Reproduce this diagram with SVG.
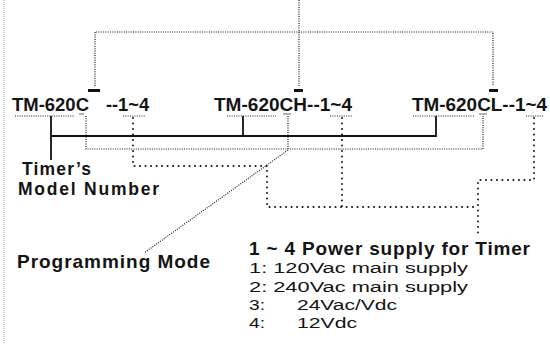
<svg xmlns="http://www.w3.org/2000/svg" width="550" height="344" viewBox="0 0 550 344">
<style>
  .bg{fill:#fff}
  .t{font-family:"Liberation Sans",Arial,sans-serif;fill:#141414}
  .tb{font-weight:bold}
  .li{font-size:15.5px}
  .fine{fill:none;stroke:#1a1a1a;stroke-width:1.2;stroke-dasharray:1 1.3}
  .coarse{fill:none;stroke:#1a1a1a;stroke-width:2;stroke-linecap:round;stroke-dasharray:0.1 5.4}
  .solid{fill:none;stroke:#111;stroke-width:1.8}
  .bar{fill:#111}
  .edge{fill:none;stroke:#aaa;stroke-width:1;stroke-dasharray:1 1}
</style>
<rect class="bg" x="0" y="0" width="550" height="344"/>
<line class="edge" x1="4" y1="0" x2="4" y2="344"/>

<g id="connectors">
  <!-- top bracket -->
  <line class="fine" x1="299" y1="0" x2="299" y2="87"/>
  <polyline class="fine" points="95,86 95,32 493,32 493,86"/>
  <!-- model number solid bracket -->
  <polyline class="solid" points="51,116 51,160"/>
  <polyline class="solid" points="51,136 436,136 436,116"/>
  <line class="solid" x1="243" y1="116" x2="243" y2="136"/>
  <!-- programming mode -->
  <polyline class="fine" points="86,116 86,149 483,149 483,116"/>
  <line class="fine" x1="288" y1="116" x2="288" y2="149"/>
  <line class="fine" x1="288" y1="150" x2="144" y2="253"/>
  <!-- power supply -->
  <polyline class="coarse" points="133,118 133,166 267,166 267,207 477,207"/>
  <line class="coarse" x1="342" y1="118" x2="342" y2="207"/>
  <polyline class="coarse" points="534,118 534,180 478,180 478,233"/>
  <!-- underlines -->
  <line class="fine" x1="15" y1="116" x2="75" y2="116"/>
  <line class="fine" x1="123" y1="116" x2="146" y2="116"/>
  <line class="fine" x1="227" y1="116" x2="276" y2="116"/>
  <line class="fine" x1="330" y1="116" x2="353" y2="116"/>
  <line class="fine" x1="413" y1="116" x2="474" y2="116"/>
  <line class="fine" x1="526" y1="116" x2="544" y2="116"/>
  <line stroke="#999" stroke-width="1.5" x1="79" y1="114" x2="84" y2="114"/>
  <line stroke="#999" stroke-width="1.5" x1="283" y1="114" x2="291" y2="114"/>
  <line stroke="#999" stroke-width="1.5" x1="479" y1="114" x2="487" y2="114"/>
  <!-- overbars -->
  <rect class="bar" x="88" y="89" width="12" height="3"/>
  <rect class="bar" x="294" y="89" width="9" height="3"/>
  <rect class="bar" x="489" y="89" width="9" height="3"/>
</g>

<g id="model-c">
  <text class="t tb" x="12" y="111" font-size="18.5" textLength="77" lengthAdjust="spacingAndGlyphs">TM-620C</text>
  <text class="t tb" x="106" y="111" font-size="18.5" textLength="43" lengthAdjust="spacingAndGlyphs">--1~4</text>
</g>
<g id="model-ch">
  <text class="t tb" x="214" y="111" font-size="18.5" textLength="138" lengthAdjust="spacingAndGlyphs">TM-620CH--1~4</text>
</g>
<g id="model-cl">
  <text class="t tb" x="412" y="111" font-size="18.5" textLength="135" lengthAdjust="spacingAndGlyphs">TM-620CL--1~4</text>
</g>
<g id="timer-model-number">
  <text class="t tb" x="22" y="175" font-size="17.5" textLength="69" lengthAdjust="spacing">Timer’s</text>
  <text class="t tb" x="18" y="195" font-size="17.5" textLength="141" lengthAdjust="spacing">Model Number</text>
</g>
<g id="programming-mode">
  <text class="t tb" x="17" y="268" font-size="19" textLength="193" lengthAdjust="spacing">Programming Mode</text>
</g>
<g id="power-supply">
  <text class="t tb" x="249" y="255" font-size="19" textLength="281" lengthAdjust="spacing">1 ~ 4 Power supply for Timer</text>
  <text class="t li" x="249" y="273" textLength="219" lengthAdjust="spacingAndGlyphs">1: 120Vac main supply</text>
  <text class="t li" x="249" y="291.5" textLength="219" lengthAdjust="spacingAndGlyphs">2: 240Vac main supply</text>
  <text class="t li" x="249" y="310" textLength="16" lengthAdjust="spacingAndGlyphs">3:</text>
  <text class="t li" x="297" y="310" textLength="100" lengthAdjust="spacingAndGlyphs">24Vac/Vdc</text>
  <text class="t li" x="249" y="328" textLength="16" lengthAdjust="spacingAndGlyphs">4:</text>
  <text class="t li" x="297" y="328" textLength="60" lengthAdjust="spacingAndGlyphs">12Vdc</text>
</g>
</svg>
